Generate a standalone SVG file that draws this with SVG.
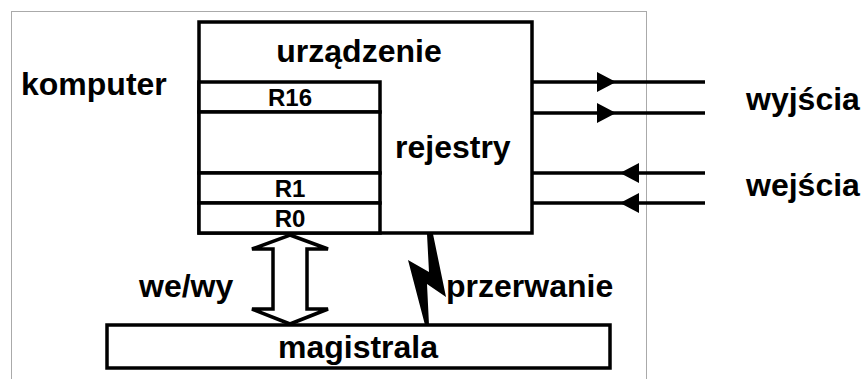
<svg xmlns="http://www.w3.org/2000/svg" width="866" height="379" viewBox="0 0 866 379">
<style>
.ln{fill:none;stroke:#000;stroke-width:3.5}
.box{fill:#fff;stroke:#000;stroke-width:3.5}
.t{font-family:"Liberation Sans",Arial,sans-serif;font-weight:bold;font-size:32px;fill:#000}
.r{font-family:"Liberation Sans",Arial,sans-serif;font-weight:bold;font-size:24px;fill:#000;text-anchor:middle}
.frame{fill:none;stroke:#555;stroke-width:1;stroke-dasharray:1 1}
</style>
<rect class="frame" x="11.5" y="11.5" width="635" height="390"/>
<g id="komputer"><text class="t" x="21" y="95">komputer</text></g>
<g id="urzadzenie">
<rect class="box" x="199" y="22" width="333" height="211"/>
<text class="t" x="359" y="62" text-anchor="middle">urządzenie</text>
<text class="t" x="395" y="158">rejestry</text>
</g>
<g id="R16"><rect class="box" x="199" y="82" width="181" height="30"/><text class="r" x="290" y="106">R16</text></g>
<g id="Rmid"><rect class="box" x="199" y="112" width="181" height="61"/></g>
<g id="R1"><rect class="box" x="199" y="173" width="181" height="30"/><text class="r" x="290" y="197">R1</text></g>
<g id="R0"><rect class="box" x="199" y="203" width="181" height="30"/><text class="r" x="290" y="227">R0</text></g>
<g id="magistrala"><rect class="box" x="107" y="325" width="503" height="43"/><text class="t" x="358" y="358" text-anchor="middle">magistrala</text></g>
<g id="wyjscia"><text class="t" x="746" y="110">wyjścia</text></g>
<g id="wejscia"><text class="t" x="746" y="196">wejścia</text></g>
<g id="connectors">
<line class="ln" x1="532" y1="82" x2="705" y2="82"/>
<line class="ln" x1="532" y1="113" x2="705" y2="113"/>
<line class="ln" x1="532" y1="173" x2="705" y2="173"/>
<line class="ln" x1="532" y1="203" x2="705" y2="203"/>
<path d="M597,72 L616,82 L597,92 z M597,103 L616,113 L597,123 z M639,163 L620,173 L639,183 z M639,193 L620,203 L639,213 z" fill="#000"/>
<polygon class="box" points="290,235 328,249 307,249 307,309 328,309 290,324 252,309 273,309 273,249 252,249"/>
<polygon fill="#000" points="427,234 433,234 446,297 427,284 429,325 425,325 408,260 429,272"/>
<text class="t" x="139" y="297">we/wy</text>
<text class="t" x="446" y="297">przerwanie</text>
</g>
</svg>
